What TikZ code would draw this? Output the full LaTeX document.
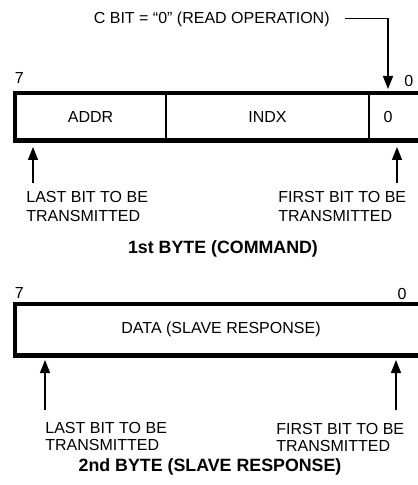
\documentclass[tikz,border=0pt]{standalone}
\usepackage{fontspec}
\setmainfont{Liberation Sans}
\usetikzlibrary{arrows.meta,calc,positioning}

\begin{document}
\begin{tikzpicture}[x=0.5pt,y=-0.5pt,>={Triangle[length=6.5pt,width=5pt]},
  field/.style={minimum height=23.75pt,inner sep=0pt,outer sep=0pt,font=\fontsize{8}{9.5}\selectfont},
  frame/.style={line width=2.2pt},
  note/.style={align=left,inner sep=0pt,font=\fontsize{8}{9.5}\selectfont},
  title/.style={inner sep=0pt,font=\fontsize{8.9}{10.5}\selectfont\bfseries},
  arr/.style={->,line width=0.65pt}]
\useasboundingbox (0,0) rectangle (417,485);
% 1st byte
\node[field,minimum width=75.5pt,anchor=north west] (addr) at (15,93) {ADDR};
\node[field,minimum width=101.5pt,right=0pt of addr] (indx) {INDX};
\node[field,minimum width=19pt,right=0pt of indx] (cbit) {0};
\draw[line width=0.75pt] (addr.north east) -- (addr.south east) (indx.north east) -- (indx.south east);
\draw[frame] (addr.north west) rectangle ([xshift=10pt]cbit.south east);
\node[note,anchor=base west] (msb1) at (14.5,83.3) {7};
\node[note,anchor=base east] (lsb1) at (413.7,86.7) {0};
\node[note,anchor=base east] (cnote) at (330,24) {C BIT = “0” (READ OPERATION)};
\draw[arr,line width=0.75pt] ([xshift=7.5pt,yshift=0.8pt]cnote.east) -| ([yshift=2pt]cbit.north);
\coordinate (tipL1) at ($(addr.south west)+(18,6.5)$);
\coordinate (tipR1) at ($(cbit.south)+(9,6.5)$);
\node[note,anchor=north west] (last1) at (26,190.7) {LAST BIT TO BE\\TRANSMITTED};
\node[note,anchor=north west] (first1) at (278,190.7) {FIRST BIT TO BE\\TRANSMITTED};
\draw[arr] ([yshift=3.85pt]last1.north -| tipL1) -- (tipL1);
\draw[arr] ([yshift=3.85pt]first1.north -| tipR1) -- (tipR1);
\node[title,anchor=base] (byte1) at (223,253.3) {1st BYTE (COMMAND)};
% 2nd byte
\node[field,minimum width=206pt,minimum height=25.75pt,anchor=north west] (data) at (15,304) {DATA (SLAVE RESPONSE)};
\draw[frame] (data.north west) rectangle (data.south east);
\node[note,anchor=base west] (msb2) at (14.5,298.3) {7};
\node[note,anchor=base east] (lsb2) at (407,299.3) {0};
\coordinate (tipL2) at ($(data.south west)+(30,4.5)$);
\coordinate (tipR2) at ($(data.south east)+(-31,4.5)$);
\node[note,anchor=north west,font=\fontsize{8}{8.4}\selectfont] (last2) at (45,421.7) {LAST BIT TO BE\\TRANSMITTED};
\node[note,anchor=north west,font=\fontsize{8}{8.4}\selectfont] (first2) at (276,423.3) {FIRST BIT TO BE\\TRANSMITTED};
\draw[arr] ([yshift=5.85pt]last2.north -| tipL2) -- (tipL2);
\draw[arr] ([yshift=6.65pt]first2.north -| tipR2) -- (tipR2);
\node[title,anchor=base] (byte2) at (210,471) {2nd BYTE (SLAVE RESPONSE)};
\end{tikzpicture}
\end{document}
